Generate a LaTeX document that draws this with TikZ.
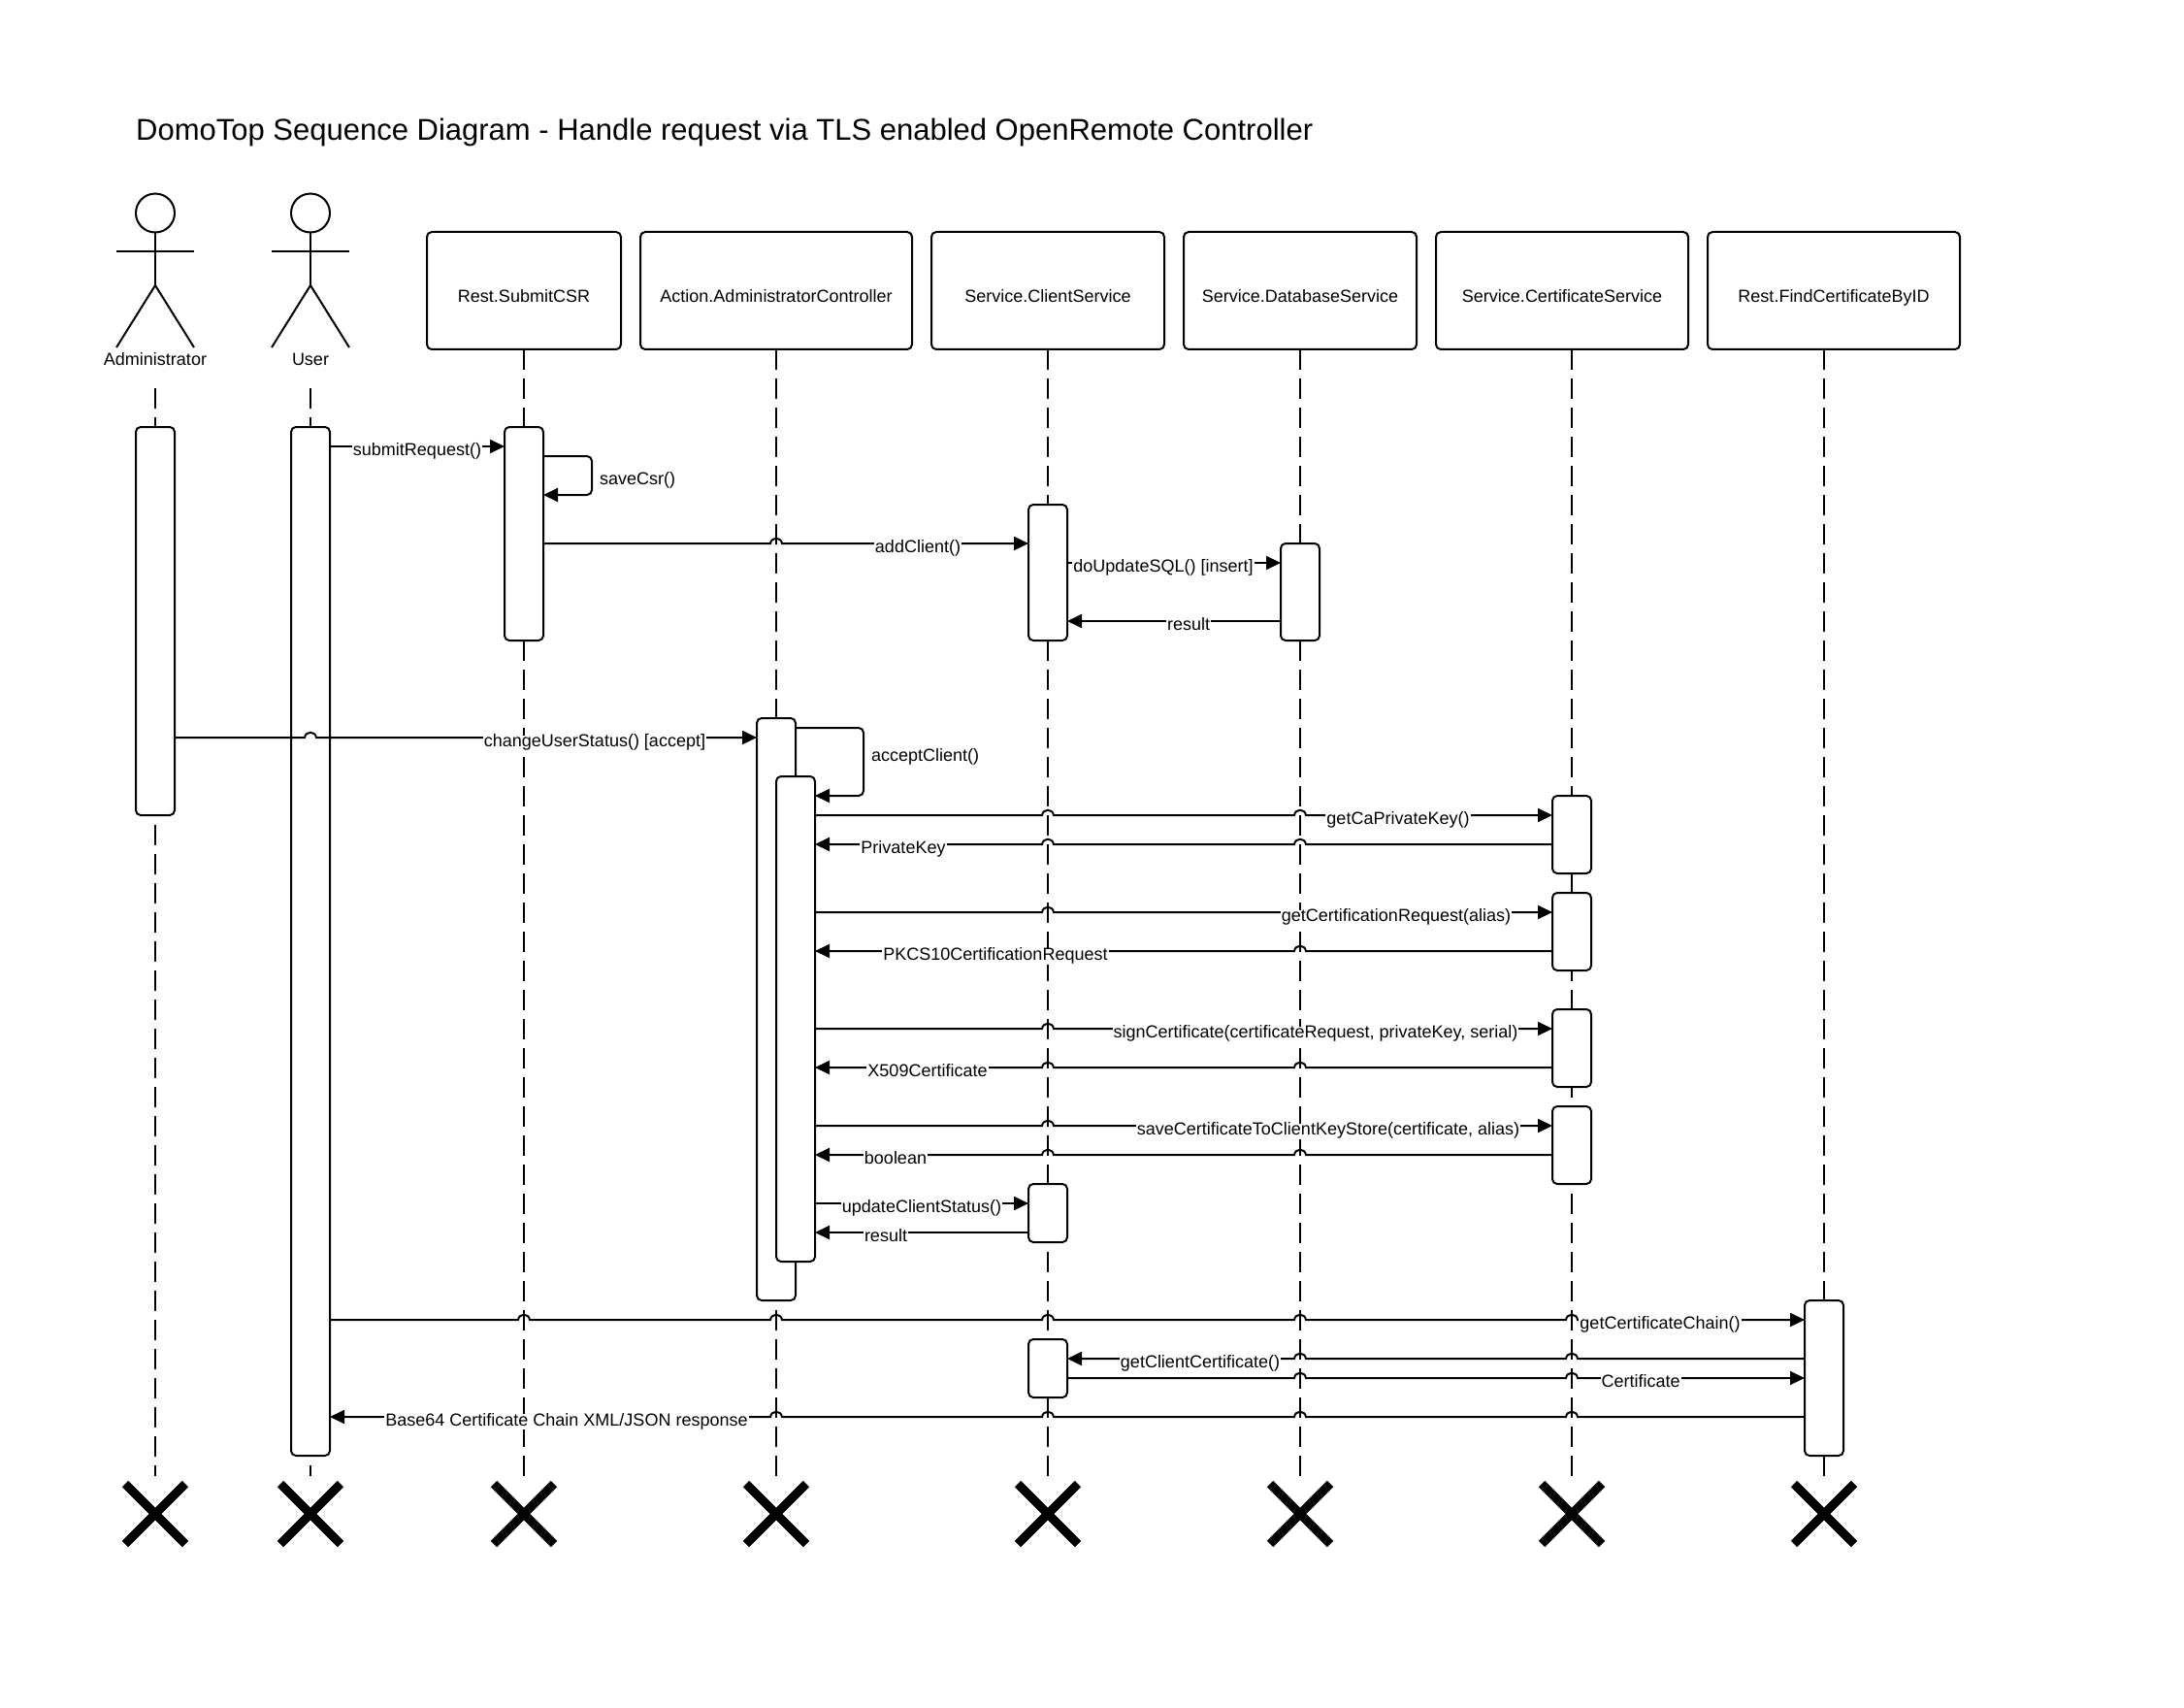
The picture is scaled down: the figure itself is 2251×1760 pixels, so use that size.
\documentclass[tikz,border=0pt]{standalone}
\usepackage{fontspec}
\setmainfont{Liberation Sans}
\usetikzlibrary{arrows.meta,shapes.misc}
\tikzset{
  x=1pt,y=-1pt,
  thing/.style={draw=black,line width=2pt,fill=white,rounded corners=5pt,outer sep=0pt,inner sep=0pt},
  objbox/.style={thing,minimum height=121pt,font=\fontsize{18}{20}\selectfont,text height=24pt,text depth=0pt},
  act/.style={thing,minimum width=40pt},
  life/.style={line width=2pt,dash pattern=on 21pt off 9pt},
  wire/.style={line width=2pt},
  msgr/.style={wire,-{Triangle[length=15pt,width=14pt]}},
  msgl/.style={wire,{Triangle[length=15pt,width=14pt]}-},
  lab/.style={fill=white,inner xsep=1pt,inner ysep=0pt,outer sep=0pt,font=\fontsize{18}{20}\selectfont,text height=12pt,text depth=4pt},
  plainlab/.style={inner sep=0pt,outer sep=0pt,font=\fontsize{18}{20}\selectfont,text height=12pt,text depth=4pt},
  endx/.style={cross out,draw=black,line width=9pt,minimum size=62pt,inner sep=0pt,outer sep=0pt},
  head/.style={circle,draw=black,line width=2pt,minimum size=40pt,inner sep=0pt,outer sep=0pt},
}
\newcommand\msgline[5]{%
  \draw[#1] (#2 |- 0,#4) \foreach \b in {#5}{ -- (\b-6,#4) .. controls (\b-5,#4-7) and (\b+5,#4-7) .. (\b+6,#4)} -- (#3 |- 0,#4);}
\newcommand\actor[3]{%
  \node[head] (#1head) at (#2,219.5) {};
  \coordinate (#1hip) at (#2,294);
  \coordinate (#1armL) at (#2-40,259);
  \coordinate (#1armR) at (#2+40,259);
  \coordinate (#1footL) at (#2-40,358);
  \coordinate (#1footR) at (#2+40,358);
  \draw[wire] (#1head.south) -- (#1hip);
  \draw[wire] (#1armL) -- (#1armR);
  \draw[wire] (#1footL) -- (#1hip) -- (#1footR);
  \node[plainlab] (#1name) at (#2,373) {#3};
  \coordinate (#1top) at (#2,400);}
\begin{document}
\begin{tikzpicture}
\useasboundingbox[fill=white] (0,0) rectangle (2251,1760);
\node[anchor=west,inner sep=0pt,font=\fontsize{31}{36}\selectfont] (title) at (140,136) {DomoTop Sequence Diagram - Handle request via TLS enabled OpenRemote Controller};
\actor{adm}{160}{Administrator}
\actor{usr}{320}{User}
% object boxes
\node[objbox,minimum width=200pt] (bSub) at (540,299.5) {Rest.SubmitCSR};
\node[objbox,minimum width=280pt] (bAct) at (800,299.5) {Action.AdministratorController};
\node[objbox,minimum width=240pt] (bCli) at (1080,299.5) {Service.ClientService};
\node[objbox,minimum width=240pt] (bDb) at (1340,299.5) {Service.DatabaseService};
\node[objbox,minimum width=260pt] (bCer) at (1610,299.5) {Service.CertificateService};
\node[objbox,minimum width=260pt] (bFnd) at (1890,299.5) {Rest.FindCertificateByID};
% end marks
\node[endx] (xAdm) at (160,1560) {};
\node[endx] (xUsr) at (320,1560) {};
\node[endx] (xSub) at (540,1560) {};
\node[endx] (xAct) at (800,1560) {};
\node[endx] (xCli) at (1080,1560) {};
\node[endx] (xDb) at (1340,1560) {};
\node[endx] (xCer) at (1620,1560) {};
\node[endx] (xFnd) at (1880,1560) {};
\foreach \n/\x in {Adm/160,Usr/320,Sub/540,Act/800,Cli/1080,Db/1340,Cer/1620,Fnd/1880}{
  \coordinate (e\n) at (\x,1521);
}
% lifelines
\draw[life] (admtop) -- (eAdm);
\draw[life] (usrtop) -- (eUsr);
\draw[life] (bSub.south) -- (eSub);
\draw[life] (bAct.south) -- (eAct);
\draw[life] (bCli.south) -- (eCli);
\draw[life] (bDb.south) -- (eDb);
\draw[life] (bCer.south -| eCer) -- (eCer);
\draw[life] (bFnd.south -| eFnd) -- (eFnd);
% activations
\node[act,minimum height=400pt] (aAdm) at (160,640) {};
\node[act,minimum height=1060pt] (aUsr) at (320,970) {};
\node[act,minimum height=220pt] (aSub) at (540,550) {};
\node[act,minimum height=140pt] (aCl1) at (1080,590) {};
\node[act,minimum height=100pt] (aDb) at (1340,610) {};
\node[act,minimum height=600pt] (aAct) at (800,1040) {};
\node[act,minimum height=500pt] (aIn) at (820,1050) {};
\node[act,minimum height=80pt] (aCe1) at (1620,860) {};
\node[act,minimum height=80pt] (aCe2) at (1620,960) {};
\node[act,minimum height=80pt] (aCe3) at (1620,1080) {};
\node[act,minimum height=80pt] (aCe4) at (1620,1180) {};
\node[act,minimum height=60pt] (aCl2) at (1080,1250) {};
\node[act,minimum height=60pt] (aCl3) at (1080,1410) {};
\node[act,minimum height=160pt] (aFnd) at (1880,1420) {};
% messages
\msgline{msgr}{aUsr.east}{aSub.west}{460}{}
\draw[msgr,rounded corners=5pt] (aSub.east |- 0,470) -- (610,470) -- (610,510) -- (aSub.east |- 0,510);
\msgline{msgr}{aSub.east}{aCl1.west}{560}{800}
\msgline{msgr}{aCl1.east}{aDb.west}{580}{}
\msgline{msgl}{aCl1.east}{aDb.west}{640}{}
\msgline{msgr}{aAdm.east}{aAct.west}{760}{320}
\draw[msgr,rounded corners=5pt] (aAct.east |- 0,750) -- (890,750) -- (890,820) -- (aIn.east |- 0,820);
\msgline{msgr}{aIn.east}{aCe1.west}{840}{1080,1340}
\msgline{msgl}{aIn.east}{aCe1.west}{870}{1080,1340}
\msgline{msgr}{aIn.east}{aCe2.west}{940}{1080}
\msgline{msgl}{aIn.east}{aCe2.west}{980}{1340}
\msgline{msgr}{aIn.east}{aCe3.west}{1060}{1080}
\msgline{msgl}{aIn.east}{aCe3.west}{1100}{1080,1340}
\msgline{msgr}{aIn.east}{aCe4.west}{1160}{1080}
\msgline{msgl}{aIn.east}{aCe4.west}{1190}{1080,1340}
\msgline{msgr}{aIn.east}{aCl2.west}{1240}{}
\msgline{msgl}{aIn.east}{aCl2.west}{1270}{}
\msgline{msgr}{aUsr.east}{aFnd.west}{1360}{540,800,1080,1340,1620}
\msgline{msgl}{aCl3.east}{aFnd.west}{1400}{1340,1620}
\msgline{msgr}{aCl3.east}{aFnd.west}{1420}{1340,1620}
\msgline{msgl}{aUsr.east}{aFnd.west}{1460}{800,1080,1340,1620}
% labels
\node[lab] (l1) at (430,465) {submitRequest()};
\node[plainlab,anchor=west] (l2) at (618,495.5) {saveCsr()};
\node[lab] (l3) at (946,565) {addClient()};
\node[lab] (l4) at (1199,585.5) {doUpdateSQL() [insert]};
\node[lab] (l5) at (1225,645.5) {result};
\node[lab] (l6) at (613,765.5) {changeUserStatus() [accept]};
\node[plainlab,anchor=west] (l7) at (898,780.5) {acceptClient()};
\node[lab] (l8) at (1441,845.5) {getCaPrivateKey()};
\node[lab] (l9) at (931,875.5) {PrivateKey};
\node[lab] (l10) at (1439,945.5) {getCertificationRequest(alias)};
\node[lab] (l11) at (1026,985.5) {PKCS10CertificationRequest};
\node[lab] (l12) at (1356,1065.5) {signCertificate(certificateRequest, privateKey, serial)};
\node[lab] (l13) at (956,1105.5) {X509Certificate};
\node[lab] (l14) at (1369,1165.5) {saveCertificateToClientKeyStore(certificate, alias)};
\node[lab] (l15) at (923,1195.5) {boolean};
\node[lab] (l16) at (950,1245.5) {updateClientStatus()};
\node[lab] (l17) at (913,1275) {result};
\node[lab] (l18) at (1711,1365) {getCertificateChain()};
\node[lab] (l19) at (1237,1405) {getClientCertificate()};
\node[lab] (l20) at (1691,1425) {Certificate};
\node[lab] (l21) at (584,1465) {Base64 Certificate Chain XML/JSON response};
\end{tikzpicture}
\end{document}
